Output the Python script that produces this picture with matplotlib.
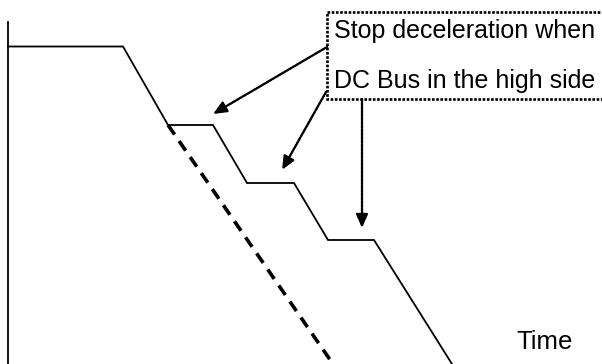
import matplotlib
matplotlib.use("Agg")
import matplotlib.pyplot as plt

# --- Data (pixel-like units: x = time, y = speed measured from the top) ---
H = 364
axis_x = [8, 8]
axis_y = [22, 364]

speed_t = [8, 123, 168, 213, 247, 294, 328, 374, 452]
speed_v = [46.5, 46.5, 125, 125, 183, 183, 240, 240, 364]

normal_t = [168, 333]
normal_v = [125, 364]

# arrows: (start, tip)
arrows = [((327, 47), (213, 114)),
          ((326, 92), (282, 170)),
          ((362, 99), (362, 228))]

box_xy = (327, 12)
box_w, box_h = 290, 87
box_lines = ["Stop deceleration when", "DC Bus in the high side"]
box_line_y = [31, 81]
time_label = "Time"

fonts = ['Liberation Sans', 'DejaVu Sans']

fig = plt.figure(figsize=(6.02, 3.64), dpi=100)
ax = fig.add_axes([0, 0, 1, 1])
ax.set_xlim(0, 602)
ax.set_ylim(H, 0)
ax.axis('off')

ax.plot(axis_x, axis_y, color='black', lw=1.3)
ax.plot(speed_t, speed_v, color='black', lw=1.3, solid_joinstyle='miter')
ax.plot(normal_t, normal_v, color='black', lw=2.6, ls=(0, (3.2, 2.2)))

dot = (0, (1.0, 0.6))
for (x0, y0), (x1, y1) in arrows:
    ax.annotate('', xy=(x1, y1), xytext=(x0, y0),
                arrowprops=dict(arrowstyle='-|>,head_length=0.8,head_width=0.35',
                                color='black', lw=1.7, ls=dot,
                                shrinkA=0, shrinkB=0))

rect = plt.Rectangle(box_xy, box_w, box_h, fill=False, ec='black', lw=1.9,
                     ls=dot, clip_on=True)
ax.add_patch(rect)

for txt, y in zip(box_lines, box_line_y):
    ax.text(334, y, txt, fontsize=18, family=fonts, va='center', ha='left')

ax.text(516, 342, time_label, fontsize=18.5, family=fonts, va='center', ha='left')

fig.savefig('out.png', dpi=100)
